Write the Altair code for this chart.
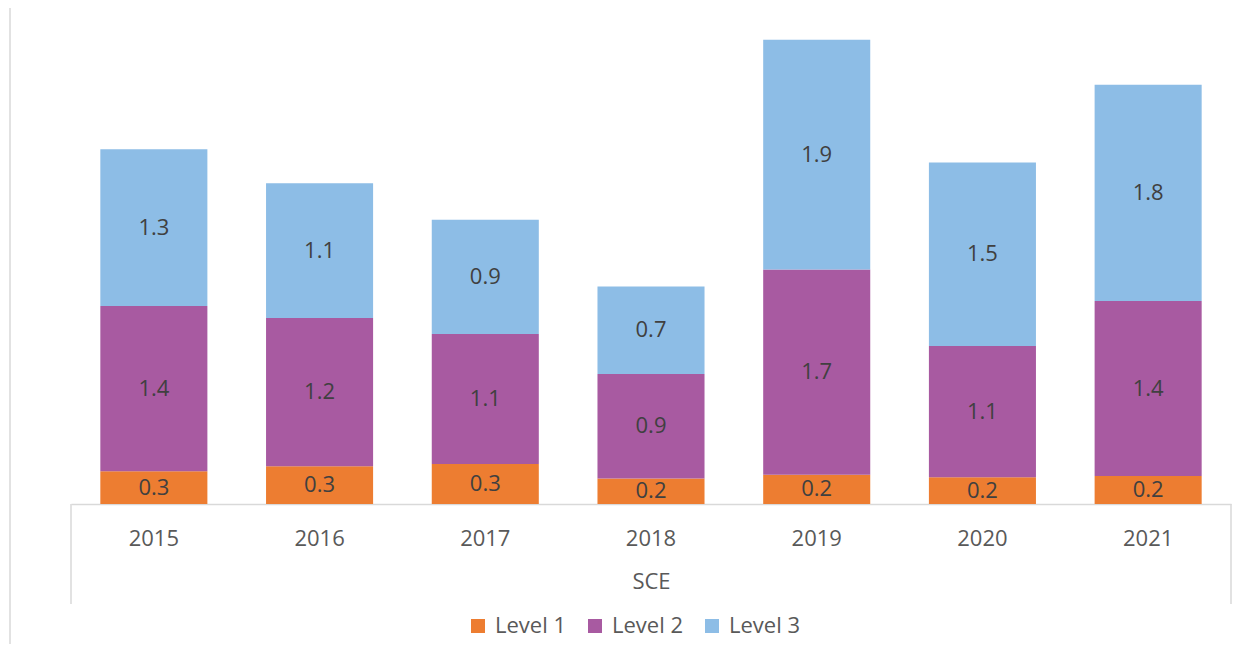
import altair as alt
import pandas as pd

years = ["2015", "2016", "2017", "2018", "2019", "2020", "2021"]
level1 = [0.27, 0.31, 0.33, 0.21, 0.24, 0.22, 0.23]
level2 = [1.36, 1.22, 1.07, 0.86, 1.69, 1.08, 1.44]
level3 = [1.29, 1.11, 0.94, 0.72, 1.89, 1.51, 1.78]
series = ["Level 1", "Level 2", "Level 3"]
colors = ["#ED7D31", "#A85AA1", "#8DBDE6"]

rows = []
for i, yr in enumerate(years):
    for k, (name, vals) in enumerate(zip(series, [level1, level2, level3])):
        rows.append({"year": yr, "level": name, "order": k, "value": vals[i]})
df = pd.DataFrame(rows)

W, H = 1160, 486
FONT = "Open Sans"

xenc = alt.X(
    "year:N", sort=years,
    scale=alt.Scale(paddingInner=0.354, paddingOuter=0.177),
    axis=alt.Axis(title="SCE", labelAngle=0, ticks=False, domain=True,
                  domainColor="#D9D9D9", domainWidth=1.5, grid=False,
                  labelFont=FONT, labelFontSize=22, labelColor="#595959",
                  labelPadding=24, titleFont=FONT, titleFontSize=22,
                  titleFontWeight="normal", titleColor="#595959",
                  titlePadding=22),
)
yscale = alt.Scale(domain=[0, 4], nice=False, zero=True)

bars = alt.Chart(df).mark_bar().encode(
    x=xenc,
    y=alt.Y("value:Q", stack="zero", scale=yscale, axis=None),
    color=alt.Color("level:N", scale=alt.Scale(domain=series, range=colors),
                    legend=alt.Legend(orient="none", legendX=396, legendY=597,
                                      direction="horizontal", title=None,
                                      symbolType="square", symbolSize=196,
                                      symbolStrokeWidth=0, labelFont=FONT,
                                      labelFontSize=22, labelColor="#595959",
                                      columnPadding=17, labelOffset=6)),
    order=alt.Order("order:Q", sort="ascending"),
)

labels = alt.Chart(df).transform_stack(
    stack="value", groupby=["year"], as_=["v0", "v1"],
    sort=[alt.SortField("order", order="ascending")],
).transform_calculate(
    mid="(datum.v0 + datum.v1) / 2",
    lab="format(datum.value, '.1f')",
).mark_text(font=FONT, fontSize=22, color="#404040", baseline="middle").encode(
    x=xenc,
    y=alt.Y("mid:Q", scale=yscale, axis=None),
    text="lab:N",
)

one = pd.DataFrame({"a": [0]})
box_left = alt.Chart(one).mark_rule(color="#D9D9D9", strokeWidth=1.5).encode(
    x=alt.value(0), y=alt.value(H), y2=alt.value(H + 100))
box_right = alt.Chart(one).mark_rule(color="#D9D9D9", strokeWidth=1.5).encode(
    x=alt.value(W), y=alt.value(H), y2=alt.value(H + 100))
border = alt.Chart(one).mark_rule(color="#D9D9D9", strokeWidth=1.5).encode(
    x=alt.value(-61), y=alt.value(-11), y2=alt.value(640))

chart = alt.layer(bars, labels, box_left, box_right, border).properties(
    width=W, height=H,
    autosize=alt.AutoSizeParams(type="none"),
    padding={"left": 63, "top": 10, "right": 5, "bottom": 140},
).configure_view(stroke=None)

chart.save("out.html", embed_options={"renderer": "svg", "actions": False})
